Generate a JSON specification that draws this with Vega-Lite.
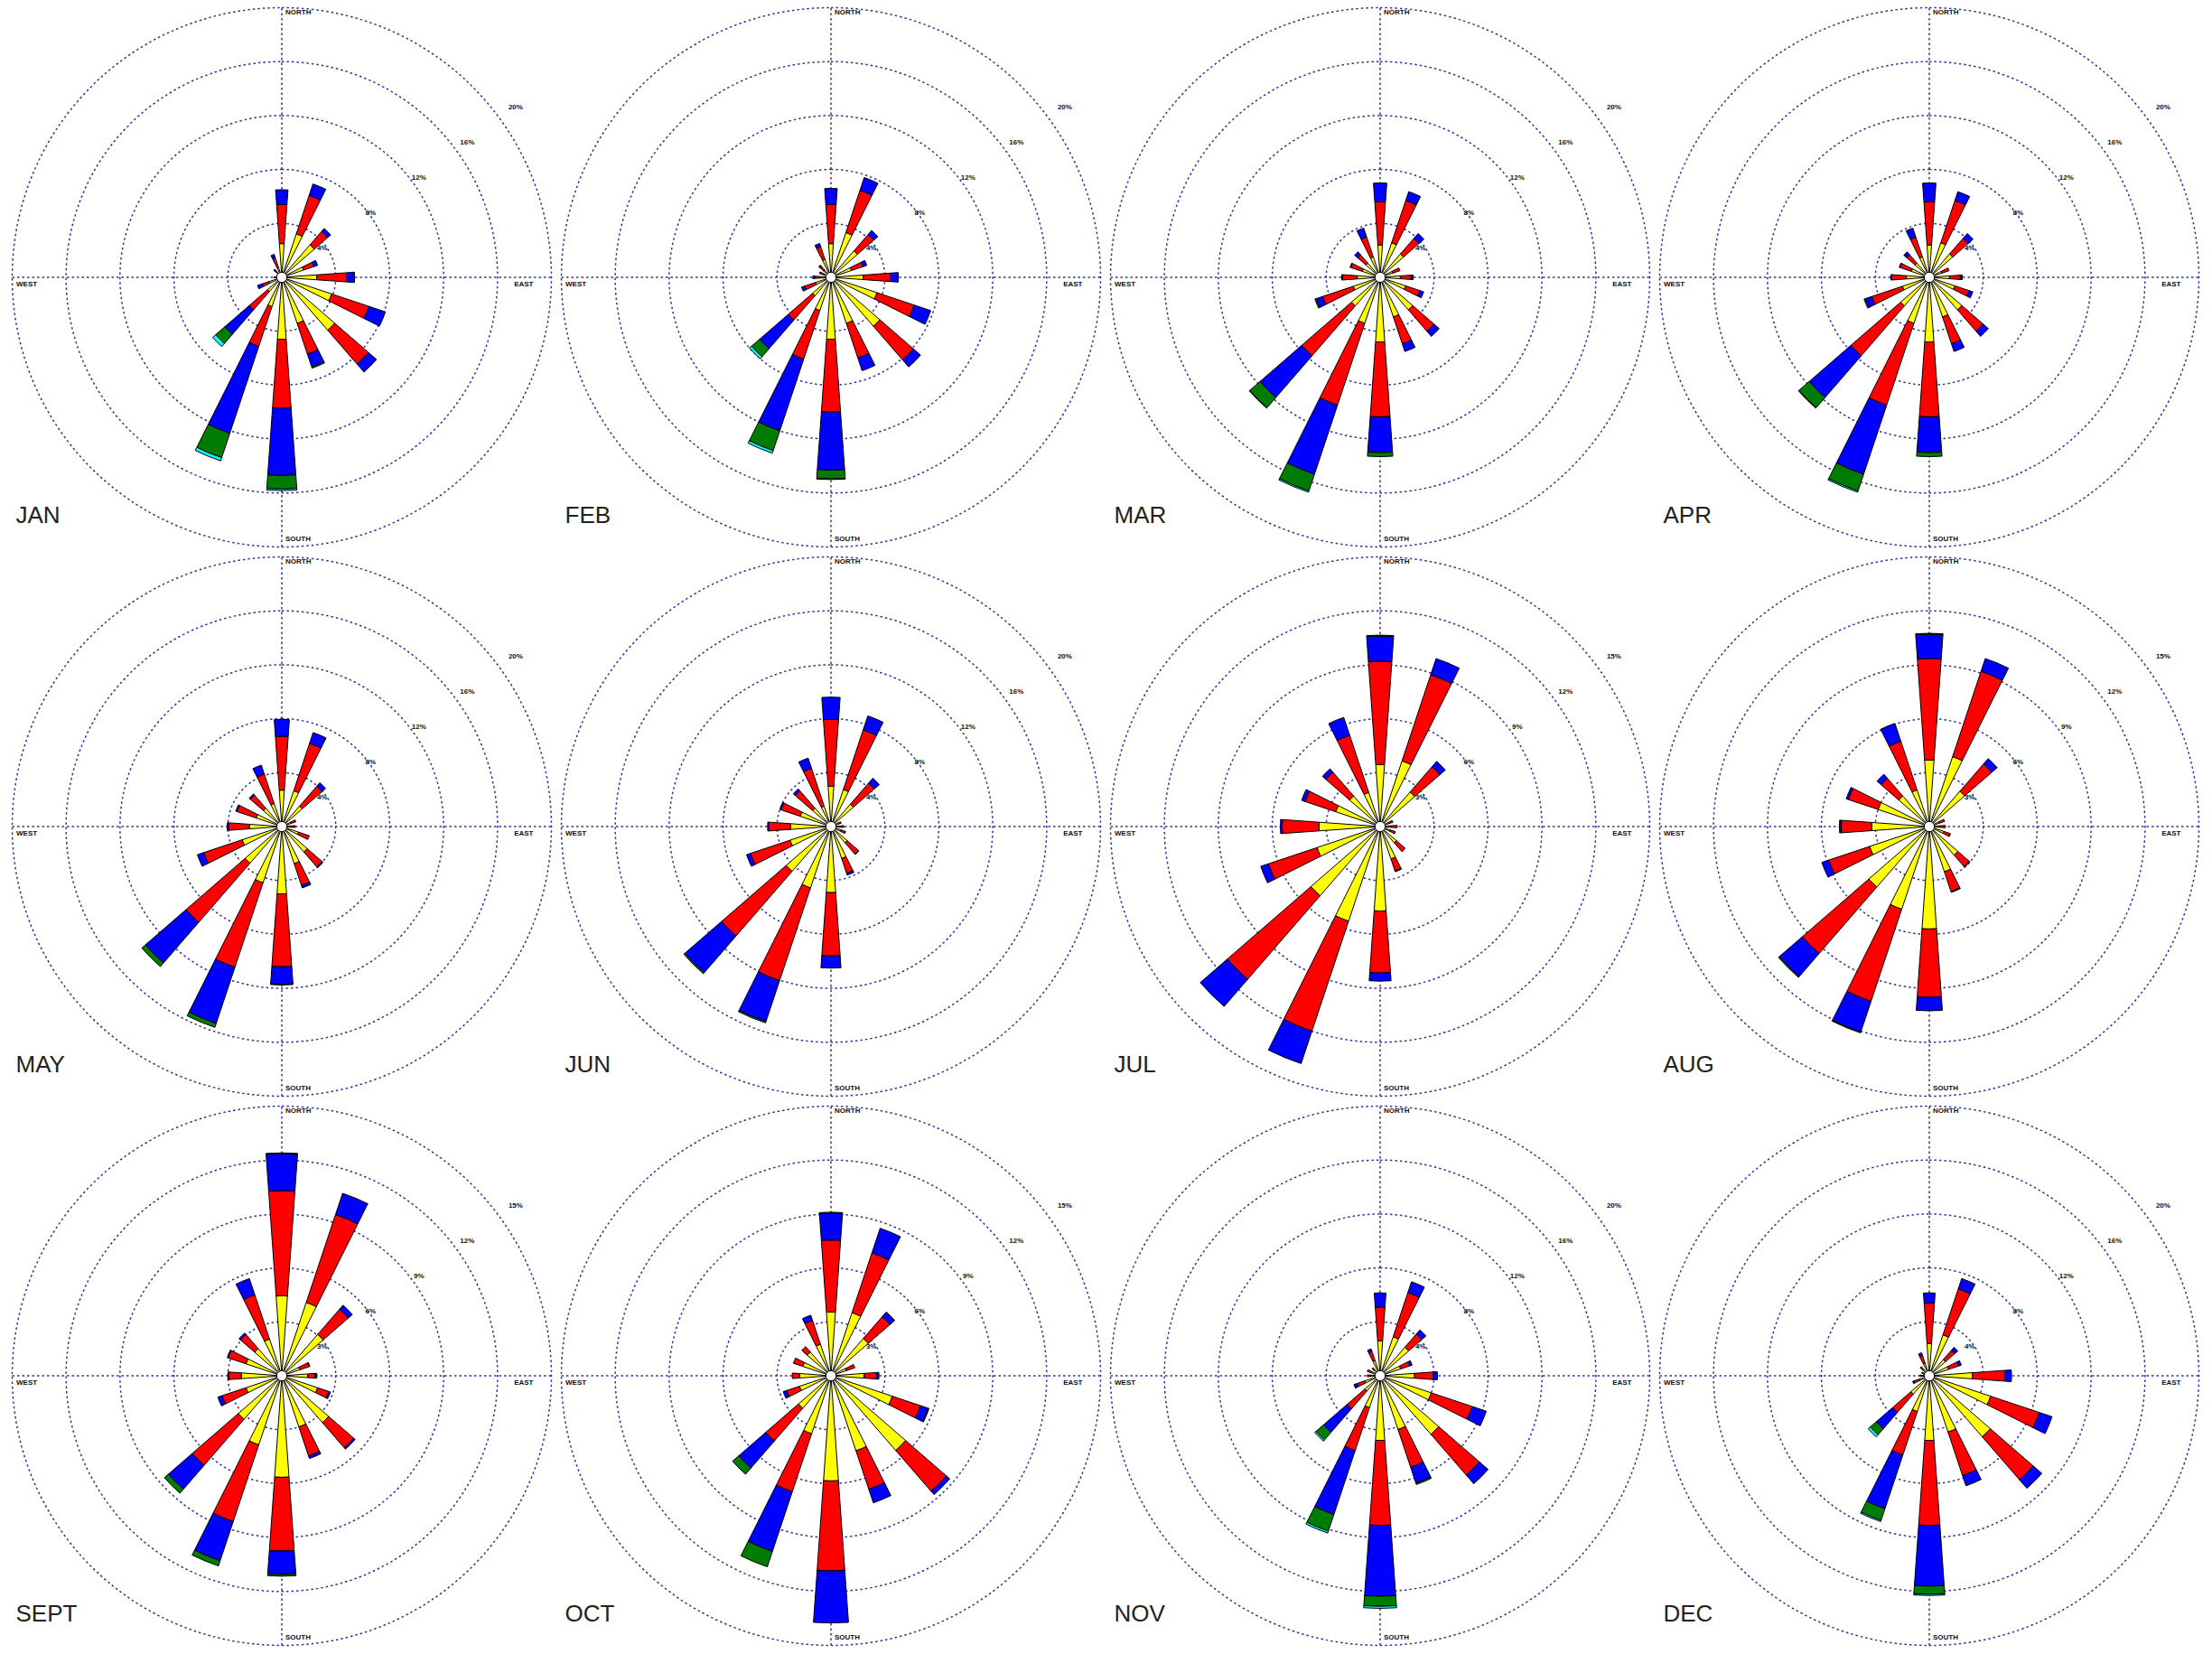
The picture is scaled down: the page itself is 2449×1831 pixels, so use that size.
{
  "$schema": "https://vega.github.io/schema/vega-lite/v6.json",
  "padding": {"left": 8, "top": 3, "right": 0, "bottom": 0},
  "background": "white",
  "config": {"view": {"stroke": null}, "font": "Liberation Sans"},
  "datasets": {
    "all": [
      {"m":"JAN","d":0,"s1":2.5,"s2":2.9,"s3":1.1},
      {"m":"JAN","d":22.5,"s1":3.4,"s2":3.0,"s3":0.9},
      {"m":"JAN","d":45,"s1":3.2,"s2":1.3,"s3":0.3},
      {"m":"JAN","d":67.5,"s1":1.7,"s2":0.8,"s3":0.3},
      {"m":"JAN","d":90,"s1":2.6,"s2":2.2,"s3":0.6},
      {"m":"JAN","d":112.5,"s1":3.9,"s2":2.9,"s3":1.3},
      {"m":"JAN","d":135,"s1":5.2,"s2":3.3,"s3":0.8},
      {"m":"JAN","d":157.5,"s1":3.6,"s2":2.4,"s3":1.0,"s4":0.1},
      {"m":"JAN","d":180,"s1":4.6,"s2":5.1,"s3":5.0,"s4":1.0,"s5":0.12},
      {"m":"JAN","d":202.5,"s1":2.3,"s2":3.1,"s3":6.8,"s4":1.9,"s5":0.25},
      {"m":"JAN","d":225,"s1":1.4,"s2":1.8,"s3":2.4,"s4":0.9,"s5":0.3},
      {"m":"JAN","d":247.5,"s1":1.0,"s2":0.5,"s3":0.4},
      {"m":"JAN","d":270,"s1":0.4,"s2":0.2},
      {"m":"JAN","d":292.5,"s1":0.3,"s2":0.1},
      {"m":"JAN","d":315,"s1":0.5,"s2":0.2,"s3":0.1},
      {"m":"JAN","d":337.5,"s1":0.8,"s2":0.7,"s3":0.3},
      {"m":"FEB","d":0,"s1":2.5,"s2":2.9,"s3":1.2},
      {"m":"FEB","d":22.5,"s1":3.5,"s2":3.3,"s3":1.0},
      {"m":"FEB","d":45,"s1":2.6,"s2":1.6,"s3":0.4},
      {"m":"FEB","d":67.5,"s1":1.6,"s2":0.9,"s3":0.3},
      {"m":"FEB","d":90,"s1":2.4,"s2":2.0,"s3":0.6},
      {"m":"FEB","d":112.5,"s1":3.6,"s2":2.9,"s3":1.3},
      {"m":"FEB","d":135,"s1":4.8,"s2":3.3,"s3":0.7},
      {"m":"FEB","d":157.5,"s1":3.6,"s2":2.7,"s3":1.0},
      {"m":"FEB","d":180,"s1":4.6,"s2":5.4,"s3":4.3,"s4":0.65,"s5":0.05},
      {"m":"FEB","d":202.5,"s1":2.6,"s2":3.8,"s3":5.6,"s4":1.55,"s5":0.2},
      {"m":"FEB","d":225,"s1":1.8,"s2":2.4,"s3":2.8,"s4":0.8,"s5":0.2},
      {"m":"FEB","d":247.5,"s1":1.2,"s2":0.85,"s3":0.25},
      {"m":"FEB","d":270,"s1":0.8,"s2":0.4,"s3":0.15},
      {"m":"FEB","d":292.5,"s1":0.6,"s2":0.3},
      {"m":"FEB","d":315,"s1":0.7,"s2":0.4,"s3":0.1},
      {"m":"FEB","d":337.5,"s1":1.4,"s2":1.0,"s3":0.25},
      {"m":"MAR","d":0,"s1":2.4,"s2":3.2,"s3":1.4},
      {"m":"MAR","d":22.5,"s1":2.7,"s2":3.3,"s3":0.7},
      {"m":"MAR","d":45,"s1":2.3,"s2":1.5,"s3":0.5},
      {"m":"MAR","d":67.5,"s1":1.0,"s2":0.55},
      {"m":"MAR","d":90,"s1":1.5,"s2":0.8,"s3":0.15},
      {"m":"MAR","d":112.5,"s1":2.0,"s2":1.1,"s3":0.3},
      {"m":"MAR","d":135,"s1":3.2,"s2":2.1,"s3":0.5},
      {"m":"MAR","d":157.5,"s1":3.1,"s2":2.1,"s3":0.6},
      {"m":"MAR","d":180,"s1":4.8,"s2":5.55,"s3":2.65,"s4":0.3},
      {"m":"MAR","d":202.5,"s1":3.6,"s2":6.4,"s3":5.4,"s4":1.3,"s5":0.1},
      {"m":"MAR","d":225,"s1":2.8,"s2":4.9,"s3":4.1,"s4":1.0,"s5":0.05},
      {"m":"MAR","d":247.5,"s1":2.1,"s2":2.4,"s3":0.5,"s4":0.1},
      {"m":"MAR","d":270,"s1":1.7,"s2":1.1,"s3":0.05},
      {"m":"MAR","d":292.5,"s1":1.4,"s2":0.9,"s3":0.05},
      {"m":"MAR","d":315,"s1":1.4,"s2":0.8,"s3":0.3},
      {"m":"MAR","d":337.5,"s1":1.6,"s2":1.55,"s3":0.7},
      {"m":"APR","d":0,"s1":2.4,"s2":3.2,"s3":1.4},
      {"m":"APR","d":22.5,"s1":2.7,"s2":3.3,"s3":0.7},
      {"m":"APR","d":45,"s1":2.3,"s2":1.5,"s3":0.5},
      {"m":"APR","d":67.5,"s1":1.0,"s2":0.55},
      {"m":"APR","d":90,"s1":1.5,"s2":0.8,"s3":0.15},
      {"m":"APR","d":112.5,"s1":2.0,"s2":1.1,"s3":0.3},
      {"m":"APR","d":135,"s1":3.2,"s2":2.1,"s3":0.5},
      {"m":"APR","d":157.5,"s1":3.1,"s2":2.1,"s3":0.6},
      {"m":"APR","d":180,"s1":4.8,"s2":5.55,"s3":2.65,"s4":0.3},
      {"m":"APR","d":202.5,"s1":3.6,"s2":6.4,"s3":5.4,"s4":1.3,"s5":0.1},
      {"m":"APR","d":225,"s1":2.8,"s2":4.9,"s3":4.1,"s4":1.0,"s5":0.05},
      {"m":"APR","d":247.5,"s1":2.1,"s2":2.4,"s3":0.5,"s4":0.1},
      {"m":"APR","d":270,"s1":1.7,"s2":1.1,"s3":0.05},
      {"m":"APR","d":292.5,"s1":1.4,"s2":0.9,"s3":0.05},
      {"m":"APR","d":315,"s1":1.4,"s2":0.8,"s3":0.3},
      {"m":"APR","d":337.5,"s1":1.6,"s2":1.55,"s3":0.7},
      {"m":"MAY","d":0,"s1":2.7,"s2":4.0,"s3":1.25},
      {"m":"MAY","d":22.5,"s1":2.8,"s2":3.7,"s3":0.85},
      {"m":"MAY","d":45,"s1":2.0,"s2":1.95,"s3":0.35},
      {"m":"MAY","d":67.5,"s1":0.7,"s2":0.4},
      {"m":"MAY","d":90,"s1":0.7,"s2":0.3},
      {"m":"MAY","d":112.5,"s1":1.3,"s2":0.85},
      {"m":"MAY","d":135,"s1":2.5,"s2":1.45,"s3":0.1},
      {"m":"MAY","d":157.5,"s1":2.9,"s2":1.7,"s3":0.2},
      {"m":"MAY","d":180,"s1":5.0,"s2":5.4,"s3":1.3,"s4":0.05},
      {"m":"MAY","d":202.5,"s1":4.4,"s2":6.6,"s3":4.4,"s4":0.3},
      {"m":"MAY","d":225,"s1":3.6,"s2":5.8,"s3":4.0,"s4":0.35},
      {"m":"MAY","d":247.5,"s1":3.1,"s2":3.0,"s3":0.5},
      {"m":"MAY","d":270,"s1":2.4,"s2":1.55,"s3":0.1},
      {"m":"MAY","d":292.5,"s1":2.0,"s2":1.5,"s3":0.1},
      {"m":"MAY","d":315,"s1":1.8,"s2":1.3,"s3":0.1},
      {"m":"MAY","d":337.5,"s1":1.8,"s2":2.3,"s3":0.7},
      {"m":"JUN","d":0,"s1":3.0,"s2":4.95,"s3":1.65},
      {"m":"JUN","d":22.5,"s1":2.9,"s2":4.65,"s3":1.1},
      {"m":"JUN","d":45,"s1":2.2,"s2":2.05,"s3":0.5},
      {"m":"JUN","d":67.5,"s1":0.6,"s2":0.2},
      {"m":"JUN","d":90,"s1":0.7,"s2":0.25},
      {"m":"JUN","d":112.5,"s1":0.8,"s2":0.35},
      {"m":"JUN","d":135,"s1":1.6,"s2":1.1,"s3":0.05},
      {"m":"JUN","d":157.5,"s1":2.5,"s2":1.15,"s3":0.15},
      {"m":"JUN","d":180,"s1":4.9,"s2":4.7,"s3":0.9},
      {"m":"JUN","d":202.5,"s1":4.8,"s2":7.25,"s3":3.2,"s4":0.1},
      {"m":"JUN","d":225,"s1":4.4,"s2":6.35,"s3":3.6,"s4":0.1},
      {"m":"JUN","d":247.5,"s1":3.2,"s2":3.1,"s3":0.3},
      {"m":"JUN","d":270,"s1":3.0,"s2":1.6,"s3":0.1},
      {"m":"JUN","d":292.5,"s1":2.4,"s2":1.5,"s3":0.1},
      {"m":"JUN","d":315,"s1":1.8,"s2":1.7,"s3":0.2},
      {"m":"JUN","d":337.5,"s1":1.6,"s2":2.95,"s3":0.8},
      {"m":"JUL","d":0,"s1":3.45,"s2":5.75,"s3":1.4,"s4":0.05},
      {"m":"JUL","d":22.5,"s1":3.85,"s2":5.05,"s3":0.95},
      {"m":"JUL","d":45,"s1":2.55,"s2":1.85,"s3":0.4},
      {"m":"JUL","d":67.5,"s1":0.5,"s2":0.25},
      {"m":"JUL","d":90,"s1":0.6,"s2":0.35},
      {"m":"JUL","d":112.5,"s1":0.6,"s2":0.3},
      {"m":"JUL","d":135,"s1":1.2,"s2":0.65},
      {"m":"JUL","d":157.5,"s1":1.9,"s2":0.7,"s3":0.05},
      {"m":"JUL","d":180,"s1":4.7,"s2":3.45,"s3":0.45},
      {"m":"JUL","d":202.5,"s1":5.55,"s2":6.45,"s3":1.9},
      {"m":"JUL","d":225,"s1":5.1,"s2":6.15,"s3":2.0},
      {"m":"JUL","d":247.5,"s1":3.7,"s2":2.85,"s3":0.45},
      {"m":"JUL","d":270,"s1":3.4,"s2":2.05,"s3":0.1},
      {"m":"JUL","d":292.5,"s1":2.6,"s2":1.8,"s3":0.2},
      {"m":"JUL","d":315,"s1":2.25,"s2":1.75,"s3":0.25},
      {"m":"JUL","d":337.5,"s1":2.0,"s2":3.35,"s3":1.05},
      {"m":"AUG","d":0,"s1":3.7,"s2":5.65,"s3":1.35,"s4":0.05},
      {"m":"AUG","d":22.5,"s1":4.1,"s2":5.0,"s3":0.75},
      {"m":"AUG","d":45,"s1":2.6,"s2":2.0,"s3":0.4},
      {"m":"AUG","d":67.5,"s1":0.6,"s2":0.3},
      {"m":"AUG","d":90,"s1":0.6,"s2":0.3},
      {"m":"AUG","d":112.5,"s1":0.85,"s2":0.4},
      {"m":"AUG","d":135,"s1":2.1,"s2":0.85,"s3":0.05},
      {"m":"AUG","d":157.5,"s1":2.65,"s2":1.15,"s3":0.06},
      {"m":"AUG","d":180,"s1":5.7,"s2":3.8,"s3":0.75},
      {"m":"AUG","d":202.5,"s1":4.85,"s2":5.4,"s3":1.8,"s4":0.05},
      {"m":"AUG","d":225,"s1":4.45,"s2":4.9,"s3":1.7,"s4":0.06},
      {"m":"AUG","d":247.5,"s1":3.5,"s2":2.4,"s3":0.4},
      {"m":"AUG","d":270,"s1":3.2,"s2":1.7,"s3":0.1},
      {"m":"AUG","d":292.5,"s1":3.0,"s2":1.75,"s3":0.12},
      {"m":"AUG","d":315,"s1":2.25,"s2":1.3,"s3":0.3},
      {"m":"AUG","d":337.5,"s1":2.15,"s2":2.85,"s3":1.05},
      {"m":"SEPT","d":0,"s1":4.45,"s2":5.85,"s3":2.05,"s4":0.05},
      {"m":"SEPT","d":22.5,"s1":4.3,"s2":5.15,"s3":1.25},
      {"m":"SEPT","d":45,"s1":3.05,"s2":1.85,"s3":0.3},
      {"m":"SEPT","d":67.5,"s1":1.05,"s2":0.55,"s3":0.05},
      {"m":"SEPT","d":90,"s1":1.45,"s2":0.4,"s3":0.1},
      {"m":"SEPT","d":112.5,"s1":2.1,"s2":0.65,"s3":0.1},
      {"m":"SEPT","d":135,"s1":3.45,"s2":1.85,"s3":0.1},
      {"m":"SEPT","d":157.5,"s1":3.0,"s2":1.7,"s3":0.15},
      {"m":"SEPT","d":180,"s1":5.65,"s2":4.1,"s3":1.3,"s4":0.1},
      {"m":"SEPT","d":202.5,"s1":4.05,"s2":4.5,"s3":2.3,"s4":0.3},
      {"m":"SEPT","d":225,"s1":3.2,"s2":3.4,"s3":1.75,"s4":0.3},
      {"m":"SEPT","d":247.5,"s1":2.1,"s2":1.4,"s3":0.25},
      {"m":"SEPT","d":270,"s1":2.25,"s2":0.7,"s3":0.05},
      {"m":"SEPT","d":292.5,"s1":2.1,"s2":1.05,"s3":0.05},
      {"m":"SEPT","d":315,"s1":2.0,"s2":1.05,"s3":0.1},
      {"m":"SEPT","d":337.5,"s1":2.15,"s2":2.6,"s3":0.95},
      {"m":"OCT","d":0,"s1":3.55,"s2":4.0,"s3":1.5,"s4":0.05},
      {"m":"OCT","d":22.5,"s1":3.7,"s2":3.5,"s3":1.45},
      {"m":"OCT","d":45,"s1":2.75,"s2":1.6,"s3":0.35},
      {"m":"OCT","d":67.5,"s1":0.9,"s2":0.5},
      {"m":"OCT","d":90,"s1":1.85,"s2":0.7,"s3":0.12},
      {"m":"OCT","d":112.5,"s1":3.6,"s2":1.65,"s3":0.45,"s4":0.05},
      {"m":"OCT","d":135,"s1":5.5,"s2":3.0,"s3":0.25},
      {"m":"OCT","d":157.5,"s1":4.4,"s2":2.25,"s3":0.8},
      {"m":"OCT","d":180,"s1":5.85,"s2":5.0,"s3":2.9},
      {"m":"OCT","d":202.5,"s1":3.4,"s2":3.4,"s3":3.5,"s4":0.9},
      {"m":"OCT","d":225,"s1":2.4,"s2":2.4,"s3":2.0,"s4":0.45},
      {"m":"OCT","d":247.5,"s1":1.85,"s2":0.75,"s3":0.2},
      {"m":"OCT","d":270,"s1":1.75,"s2":0.4},
      {"m":"OCT","d":292.5,"s1":1.65,"s2":0.55},
      {"m":"OCT","d":315,"s1":1.75,"s2":0.4},
      {"m":"OCT","d":337.5,"s1":1.85,"s2":1.4,"s3":0.3},
      {"m":"NOV","d":0,"s1":2.6,"s2":2.5,"s3":1.05},
      {"m":"NOV","d":22.5,"s1":3.05,"s2":3.45,"s3":0.85},
      {"m":"NOV","d":45,"s1":2.8,"s2":1.3,"s3":0.4},
      {"m":"NOV","d":67.5,"s1":1.6,"s2":0.7,"s3":0.2},
      {"m":"NOV","d":90,"s1":2.55,"s2":1.4,"s3":0.3},
      {"m":"NOV","d":112.5,"s1":4.0,"s2":3.2,"s3":1.1},
      {"m":"NOV","d":135,"s1":5.75,"s2":4.0,"s3":0.85},
      {"m":"NOV","d":157.5,"s1":4.2,"s2":2.95,"s3":1.25,"s4":0.1},
      {"m":"NOV","d":180,"s1":4.8,"s2":6.3,"s3":5.25,"s4":0.75,"s5":0.15},
      {"m":"NOV","d":202.5,"s1":2.5,"s2":3.35,"s3":5.0,"s4":1.3,"s5":0.15},
      {"m":"NOV","d":225,"s1":1.5,"s2":1.75,"s3":2.3,"s4":0.75,"s5":0.12},
      {"m":"NOV","d":247.5,"s1":1.2,"s2":0.6,"s3":0.25},
      {"m":"NOV","d":270,"s1":0.7,"s2":0.25},
      {"m":"NOV","d":292.5,"s1":0.7,"s2":0.3},
      {"m":"NOV","d":315,"s1":0.6,"s2":0.2},
      {"m":"NOV","d":337.5,"s1":1.2,"s2":0.7,"s3":0.2},
      {"m":"DEC","d":0,"s1":2.4,"s2":3.0,"s3":0.75},
      {"m":"DEC","d":22.5,"s1":3.2,"s2":3.6,"s3":0.8},
      {"m":"DEC","d":45,"s1":1.6,"s2":0.9,"s3":0.3},
      {"m":"DEC","d":67.5,"s1":1.5,"s2":0.8,"s3":0.2},
      {"m":"DEC","d":90,"s1":3.2,"s2":2.4,"s3":0.5},
      {"m":"DEC","d":112.5,"s1":4.8,"s2":3.8,"s3":1.0},
      {"m":"DEC","d":135,"s1":6.0,"s2":4.2,"s3":0.85},
      {"m":"DEC","d":157.5,"s1":4.4,"s2":3.4,"s3":0.8},
      {"m":"DEC","d":180,"s1":4.8,"s2":6.3,"s3":4.5,"s4":0.6,"s5":0.1},
      {"m":"DEC","d":202.5,"s1":2.8,"s2":3.4,"s3":4.2,"s4":0.9,"s5":0.1},
      {"m":"DEC","d":225,"s1":1.8,"s2":1.8,"s3":1.6,"s4":0.6,"s5":0.2},
      {"m":"DEC","d":247.5,"s1":0.8,"s2":0.4,"s3":0.1},
      {"m":"DEC","d":270,"s1":0.5,"s2":0.2},
      {"m":"DEC","d":292.5,"s1":0.4,"s2":0.2},
      {"m":"DEC","d":315,"s1":0.6,"s2":0.3},
      {"m":"DEC","d":337.5,"s1":1.0,"s2":0.6,"s3":0.2},
      {"m":"JAN","ring":4,"lab":"4%"},{"m":"JAN","ring":8,"lab":"8%"},{"m":"JAN","ring":12,"lab":"12%"},{"m":"JAN","ring":16,"lab":"16%"},{"m":"JAN","ring":20,"lab":"20%","o":1},
      {"m":"FEB","ring":4,"lab":"4%"},{"m":"FEB","ring":8,"lab":"8%"},{"m":"FEB","ring":12,"lab":"12%"},{"m":"FEB","ring":16,"lab":"16%"},{"m":"FEB","ring":20,"lab":"20%","o":1},
      {"m":"MAR","ring":4,"lab":"4%"},{"m":"MAR","ring":8,"lab":"8%"},{"m":"MAR","ring":12,"lab":"12%"},{"m":"MAR","ring":16,"lab":"16%"},{"m":"MAR","ring":20,"lab":"20%","o":1},
      {"m":"APR","ring":4,"lab":"4%"},{"m":"APR","ring":8,"lab":"8%"},{"m":"APR","ring":12,"lab":"12%"},{"m":"APR","ring":16,"lab":"16%"},{"m":"APR","ring":20,"lab":"20%","o":1},
      {"m":"MAY","ring":4,"lab":"4%"},{"m":"MAY","ring":8,"lab":"8%"},{"m":"MAY","ring":12,"lab":"12%"},{"m":"MAY","ring":16,"lab":"16%"},{"m":"MAY","ring":20,"lab":"20%","o":1},
      {"m":"JUN","ring":4,"lab":"4%"},{"m":"JUN","ring":8,"lab":"8%"},{"m":"JUN","ring":12,"lab":"12%"},{"m":"JUN","ring":16,"lab":"16%"},{"m":"JUN","ring":20,"lab":"20%","o":1},
      {"m":"JUL","ring":3,"lab":"3%"},{"m":"JUL","ring":6,"lab":"6%"},{"m":"JUL","ring":9,"lab":"9%"},{"m":"JUL","ring":12,"lab":"12%"},{"m":"JUL","ring":15,"lab":"15%","o":1},
      {"m":"AUG","ring":3,"lab":"3%"},{"m":"AUG","ring":6,"lab":"6%"},{"m":"AUG","ring":9,"lab":"9%"},{"m":"AUG","ring":12,"lab":"12%"},{"m":"AUG","ring":15,"lab":"15%","o":1},
      {"m":"SEPT","ring":3,"lab":"3%"},{"m":"SEPT","ring":6,"lab":"6%"},{"m":"SEPT","ring":9,"lab":"9%"},{"m":"SEPT","ring":12,"lab":"12%"},{"m":"SEPT","ring":15,"lab":"15%","o":1},
      {"m":"OCT","ring":3,"lab":"3%"},{"m":"OCT","ring":6,"lab":"6%"},{"m":"OCT","ring":9,"lab":"9%"},{"m":"OCT","ring":12,"lab":"12%"},{"m":"OCT","ring":15,"lab":"15%","o":1},
      {"m":"NOV","ring":4,"lab":"4%"},{"m":"NOV","ring":8,"lab":"8%"},{"m":"NOV","ring":12,"lab":"12%"},{"m":"NOV","ring":16,"lab":"16%"},{"m":"NOV","ring":20,"lab":"20%","o":1},
      {"m":"DEC","ring":4,"lab":"4%"},{"m":"DEC","ring":8,"lab":"8%"},{"m":"DEC","ring":12,"lab":"12%"},{"m":"DEC","ring":16,"lab":"16%"},{"m":"DEC","ring":20,"lab":"20%","o":1}
    ]
  },
  "columns": 4,
  "spacing": 0,
  "bounds": "flush",
  "concat": [
    {"width":608,"height":608,"data":{"name":"all"},"transform":[{"filter":"datum.m === 'JAN'"}],"resolve":{"scale":{"radius":"independent"}},"layer":[
      {"transform":[{"filter":"isValid(datum.ring)"}],"mark":{"type":"arc","filled":false,"stroke":"#33339a","strokeWidth":1.5,"strokeDash":[2.5,3]},"encoding":{"theta":{"datum":0,"scale":{"domain":[0,360],"range":[0,6.283185307179586]}},"theta2":{"datum":360},"radius":{"field":"ring","type":"quantitative","stack":null,"scale":{"type":"linear","domain":[0,20],"range":[0,298.5]}}}},
      {"transform":[{"filter":"datum.o === 1"}],"mark":{"type":"rule","stroke":"#33339a","strokeWidth":1.5,"strokeDash":[2.5,3]},"encoding":{"x":{"datum":-1,"scale":{"domain":[-1,1],"range":[5.5,602.5]},"axis":null},"x2":{"datum":1},"y":{"datum":0,"scale":{"domain":[-1,1],"range":[602.5,5.5]},"axis":null}}},
      {"transform":[{"filter":"datum.o === 1"}],"mark":{"type":"rule","stroke":"#33339a","strokeWidth":1.5,"strokeDash":[2.5,3]},"encoding":{"x":{"datum":0},"y":{"datum":-1},"y2":{"datum":1}}},
      {"transform":[{"filter":"isValid(datum.d)"},{"fold":["s1","s2","s3","s4","s5"],"as":["cls","f"]},{"filter":"datum.f > 0"},{"stack":"f","groupby":["d"],"sort":[{"field":"cls","order":"ascending"}],"as":["r0","r1"]}],"mark":{"type":"arc","thetaOffset":-0.071,"theta2Offset":0.071,"stroke":"#000000","strokeWidth":1},"encoding":{"theta":{"field":"d","type":"quantitative","stack":null},"theta2":{"field":"d"},"radius":{"field":"r1","type":"quantitative","stack":null,"scale":{"type":"linear","domain":[0,20],"range":[0,298.5]}},"radius2":{"field":"r0"},"color":{"field":"cls","type":"nominal","scale":{"domain":["s1","s2","s3","s4","s5"],"range":["#ffff00","#ff0000","#0000ff","#007d00","#00ffff"]},"legend":null}}},
      {"transform":[{"filter":"datum.o === 1"}],"mark":{"type":"point","shape":"circle","size":130,"filled":true,"color":"#ffffff","stroke":"#000000","strokeWidth":1,"opacity":1},"encoding":{"x":{"datum":0},"y":{"datum":0}}},
      {"transform":[{"filter":"isValid(datum.ring)"}],"mark":{"type":"text","fontSize":8,"fontWeight":"bold","color":"#111111","align":"center","baseline":"middle"},"encoding":{"theta":{"datum":54},"radius":{"field":"ring","type":"quantitative","stack":null,"scale":{"type":"linear","domain":[0,20],"range":[-11,320]}},"text":{"field":"lab"}}},
      {"transform":[{"filter":"datum.o === 1"}],"mark":{"type":"text","text":"NORTH","fontSize":8,"fontWeight":"bold","color":"#111111","align":"left","baseline":"middle","dx":4,"dy":5},"encoding":{"x":{"datum":0},"y":{"datum":1}}},
      {"transform":[{"filter":"datum.o === 1"}],"mark":{"type":"text","text":"SOUTH","fontSize":8,"fontWeight":"bold","color":"#111111","align":"left","baseline":"middle","dx":4,"dy":-9},"encoding":{"x":{"datum":0},"y":{"datum":-1}}},
      {"transform":[{"filter":"datum.o === 1"}],"mark":{"type":"text","text":"WEST","fontSize":8,"fontWeight":"bold","color":"#111111","align":"left","baseline":"middle","dx":4.5,"dy":8},"encoding":{"x":{"datum":-1},"y":{"datum":0}}},
      {"transform":[{"filter":"datum.o === 1"}],"mark":{"type":"text","text":"EAST","fontSize":8,"fontWeight":"bold","color":"#111111","align":"right","baseline":"middle","dx":-20,"dy":8},"encoding":{"x":{"datum":1},"y":{"datum":0}}},
      {"transform":[{"filter":"datum.o === 1"}],"mark":{"type":"text","fontSize":26,"color":"#222222","align":"left","baseline":"alphabetic","dx":4,"dy":-27},"encoding":{"x":{"datum":-1},"y":{"datum":-1},"text":{"field":"m"}}}
    ]},
    {"width":608,"height":608,"data":{"name":"all"},"transform":[{"filter":"datum.m === 'FEB'"}],"resolve":{"scale":{"radius":"independent"}},"layer":[
      {"transform":[{"filter":"isValid(datum.ring)"}],"mark":{"type":"arc","filled":false,"stroke":"#33339a","strokeWidth":1.5,"strokeDash":[2.5,3]},"encoding":{"theta":{"datum":0,"scale":{"domain":[0,360],"range":[0,6.283185307179586]}},"theta2":{"datum":360},"radius":{"field":"ring","type":"quantitative","stack":null,"scale":{"type":"linear","domain":[0,20],"range":[0,298.5]}}}},
      {"transform":[{"filter":"datum.o === 1"}],"mark":{"type":"rule","stroke":"#33339a","strokeWidth":1.5,"strokeDash":[2.5,3]},"encoding":{"x":{"datum":-1,"scale":{"domain":[-1,1],"range":[5.5,602.5]},"axis":null},"x2":{"datum":1},"y":{"datum":0,"scale":{"domain":[-1,1],"range":[602.5,5.5]},"axis":null}}},
      {"transform":[{"filter":"datum.o === 1"}],"mark":{"type":"rule","stroke":"#33339a","strokeWidth":1.5,"strokeDash":[2.5,3]},"encoding":{"x":{"datum":0},"y":{"datum":-1},"y2":{"datum":1}}},
      {"transform":[{"filter":"isValid(datum.d)"},{"fold":["s1","s2","s3","s4","s5"],"as":["cls","f"]},{"filter":"datum.f > 0"},{"stack":"f","groupby":["d"],"sort":[{"field":"cls","order":"ascending"}],"as":["r0","r1"]}],"mark":{"type":"arc","thetaOffset":-0.071,"theta2Offset":0.071,"stroke":"#000000","strokeWidth":1},"encoding":{"theta":{"field":"d","type":"quantitative","stack":null},"theta2":{"field":"d"},"radius":{"field":"r1","type":"quantitative","stack":null,"scale":{"type":"linear","domain":[0,20],"range":[0,298.5]}},"radius2":{"field":"r0"},"color":{"field":"cls","type":"nominal","scale":{"domain":["s1","s2","s3","s4","s5"],"range":["#ffff00","#ff0000","#0000ff","#007d00","#00ffff"]},"legend":null}}},
      {"transform":[{"filter":"datum.o === 1"}],"mark":{"type":"point","shape":"circle","size":130,"filled":true,"color":"#ffffff","stroke":"#000000","strokeWidth":1,"opacity":1},"encoding":{"x":{"datum":0},"y":{"datum":0}}},
      {"transform":[{"filter":"isValid(datum.ring)"}],"mark":{"type":"text","fontSize":8,"fontWeight":"bold","color":"#111111","align":"center","baseline":"middle"},"encoding":{"theta":{"datum":54},"radius":{"field":"ring","type":"quantitative","stack":null,"scale":{"type":"linear","domain":[0,20],"range":[-11,320]}},"text":{"field":"lab"}}},
      {"transform":[{"filter":"datum.o === 1"}],"mark":{"type":"text","text":"NORTH","fontSize":8,"fontWeight":"bold","color":"#111111","align":"left","baseline":"middle","dx":4,"dy":5},"encoding":{"x":{"datum":0},"y":{"datum":1}}},
      {"transform":[{"filter":"datum.o === 1"}],"mark":{"type":"text","text":"SOUTH","fontSize":8,"fontWeight":"bold","color":"#111111","align":"left","baseline":"middle","dx":4,"dy":-9},"encoding":{"x":{"datum":0},"y":{"datum":-1}}},
      {"transform":[{"filter":"datum.o === 1"}],"mark":{"type":"text","text":"WEST","fontSize":8,"fontWeight":"bold","color":"#111111","align":"left","baseline":"middle","dx":4.5,"dy":8},"encoding":{"x":{"datum":-1},"y":{"datum":0}}},
      {"transform":[{"filter":"datum.o === 1"}],"mark":{"type":"text","text":"EAST","fontSize":8,"fontWeight":"bold","color":"#111111","align":"right","baseline":"middle","dx":-20,"dy":8},"encoding":{"x":{"datum":1},"y":{"datum":0}}},
      {"transform":[{"filter":"datum.o === 1"}],"mark":{"type":"text","fontSize":26,"color":"#222222","align":"left","baseline":"alphabetic","dx":4,"dy":-27},"encoding":{"x":{"datum":-1},"y":{"datum":-1},"text":{"field":"m"}}}
    ]},
    {"width":608,"height":608,"data":{"name":"all"},"transform":[{"filter":"datum.m === 'MAR'"}],"resolve":{"scale":{"radius":"independent"}},"layer":[
      {"transform":[{"filter":"isValid(datum.ring)"}],"mark":{"type":"arc","filled":false,"stroke":"#33339a","strokeWidth":1.5,"strokeDash":[2.5,3]},"encoding":{"theta":{"datum":0,"scale":{"domain":[0,360],"range":[0,6.283185307179586]}},"theta2":{"datum":360},"radius":{"field":"ring","type":"quantitative","stack":null,"scale":{"type":"linear","domain":[0,20],"range":[0,298.5]}}}},
      {"transform":[{"filter":"datum.o === 1"}],"mark":{"type":"rule","stroke":"#33339a","strokeWidth":1.5,"strokeDash":[2.5,3]},"encoding":{"x":{"datum":-1,"scale":{"domain":[-1,1],"range":[5.5,602.5]},"axis":null},"x2":{"datum":1},"y":{"datum":0,"scale":{"domain":[-1,1],"range":[602.5,5.5]},"axis":null}}},
      {"transform":[{"filter":"datum.o === 1"}],"mark":{"type":"rule","stroke":"#33339a","strokeWidth":1.5,"strokeDash":[2.5,3]},"encoding":{"x":{"datum":0},"y":{"datum":-1},"y2":{"datum":1}}},
      {"transform":[{"filter":"isValid(datum.d)"},{"fold":["s1","s2","s3","s4","s5"],"as":["cls","f"]},{"filter":"datum.f > 0"},{"stack":"f","groupby":["d"],"sort":[{"field":"cls","order":"ascending"}],"as":["r0","r1"]}],"mark":{"type":"arc","thetaOffset":-0.071,"theta2Offset":0.071,"stroke":"#000000","strokeWidth":1},"encoding":{"theta":{"field":"d","type":"quantitative","stack":null},"theta2":{"field":"d"},"radius":{"field":"r1","type":"quantitative","stack":null,"scale":{"type":"linear","domain":[0,20],"range":[0,298.5]}},"radius2":{"field":"r0"},"color":{"field":"cls","type":"nominal","scale":{"domain":["s1","s2","s3","s4","s5"],"range":["#ffff00","#ff0000","#0000ff","#007d00","#00ffff"]},"legend":null}}},
      {"transform":[{"filter":"datum.o === 1"}],"mark":{"type":"point","shape":"circle","size":130,"filled":true,"color":"#ffffff","stroke":"#000000","strokeWidth":1,"opacity":1},"encoding":{"x":{"datum":0},"y":{"datum":0}}},
      {"transform":[{"filter":"isValid(datum.ring)"}],"mark":{"type":"text","fontSize":8,"fontWeight":"bold","color":"#111111","align":"center","baseline":"middle"},"encoding":{"theta":{"datum":54},"radius":{"field":"ring","type":"quantitative","stack":null,"scale":{"type":"linear","domain":[0,20],"range":[-11,320]}},"text":{"field":"lab"}}},
      {"transform":[{"filter":"datum.o === 1"}],"mark":{"type":"text","text":"NORTH","fontSize":8,"fontWeight":"bold","color":"#111111","align":"left","baseline":"middle","dx":4,"dy":5},"encoding":{"x":{"datum":0},"y":{"datum":1}}},
      {"transform":[{"filter":"datum.o === 1"}],"mark":{"type":"text","text":"SOUTH","fontSize":8,"fontWeight":"bold","color":"#111111","align":"left","baseline":"middle","dx":4,"dy":-9},"encoding":{"x":{"datum":0},"y":{"datum":-1}}},
      {"transform":[{"filter":"datum.o === 1"}],"mark":{"type":"text","text":"WEST","fontSize":8,"fontWeight":"bold","color":"#111111","align":"left","baseline":"middle","dx":4.5,"dy":8},"encoding":{"x":{"datum":-1},"y":{"datum":0}}},
      {"transform":[{"filter":"datum.o === 1"}],"mark":{"type":"text","text":"EAST","fontSize":8,"fontWeight":"bold","color":"#111111","align":"right","baseline":"middle","dx":-20,"dy":8},"encoding":{"x":{"datum":1},"y":{"datum":0}}},
      {"transform":[{"filter":"datum.o === 1"}],"mark":{"type":"text","fontSize":26,"color":"#222222","align":"left","baseline":"alphabetic","dx":4,"dy":-27},"encoding":{"x":{"datum":-1},"y":{"datum":-1},"text":{"field":"m"}}}
    ]},
    {"width":608,"height":608,"data":{"name":"all"},"transform":[{"filter":"datum.m === 'APR'"}],"resolve":{"scale":{"radius":"independent"}},"layer":[
      {"transform":[{"filter":"isValid(datum.ring)"}],"mark":{"type":"arc","filled":false,"stroke":"#33339a","strokeWidth":1.5,"strokeDash":[2.5,3]},"encoding":{"theta":{"datum":0,"scale":{"domain":[0,360],"range":[0,6.283185307179586]}},"theta2":{"datum":360},"radius":{"field":"ring","type":"quantitative","stack":null,"scale":{"type":"linear","domain":[0,20],"range":[0,298.5]}}}},
      {"transform":[{"filter":"datum.o === 1"}],"mark":{"type":"rule","stroke":"#33339a","strokeWidth":1.5,"strokeDash":[2.5,3]},"encoding":{"x":{"datum":-1,"scale":{"domain":[-1,1],"range":[5.5,602.5]},"axis":null},"x2":{"datum":1},"y":{"datum":0,"scale":{"domain":[-1,1],"range":[602.5,5.5]},"axis":null}}},
      {"transform":[{"filter":"datum.o === 1"}],"mark":{"type":"rule","stroke":"#33339a","strokeWidth":1.5,"strokeDash":[2.5,3]},"encoding":{"x":{"datum":0},"y":{"datum":-1},"y2":{"datum":1}}},
      {"transform":[{"filter":"isValid(datum.d)"},{"fold":["s1","s2","s3","s4","s5"],"as":["cls","f"]},{"filter":"datum.f > 0"},{"stack":"f","groupby":["d"],"sort":[{"field":"cls","order":"ascending"}],"as":["r0","r1"]}],"mark":{"type":"arc","thetaOffset":-0.071,"theta2Offset":0.071,"stroke":"#000000","strokeWidth":1},"encoding":{"theta":{"field":"d","type":"quantitative","stack":null},"theta2":{"field":"d"},"radius":{"field":"r1","type":"quantitative","stack":null,"scale":{"type":"linear","domain":[0,20],"range":[0,298.5]}},"radius2":{"field":"r0"},"color":{"field":"cls","type":"nominal","scale":{"domain":["s1","s2","s3","s4","s5"],"range":["#ffff00","#ff0000","#0000ff","#007d00","#00ffff"]},"legend":null}}},
      {"transform":[{"filter":"datum.o === 1"}],"mark":{"type":"point","shape":"circle","size":130,"filled":true,"color":"#ffffff","stroke":"#000000","strokeWidth":1,"opacity":1},"encoding":{"x":{"datum":0},"y":{"datum":0}}},
      {"transform":[{"filter":"isValid(datum.ring)"}],"mark":{"type":"text","fontSize":8,"fontWeight":"bold","color":"#111111","align":"center","baseline":"middle"},"encoding":{"theta":{"datum":54},"radius":{"field":"ring","type":"quantitative","stack":null,"scale":{"type":"linear","domain":[0,20],"range":[-11,320]}},"text":{"field":"lab"}}},
      {"transform":[{"filter":"datum.o === 1"}],"mark":{"type":"text","text":"NORTH","fontSize":8,"fontWeight":"bold","color":"#111111","align":"left","baseline":"middle","dx":4,"dy":5},"encoding":{"x":{"datum":0},"y":{"datum":1}}},
      {"transform":[{"filter":"datum.o === 1"}],"mark":{"type":"text","text":"SOUTH","fontSize":8,"fontWeight":"bold","color":"#111111","align":"left","baseline":"middle","dx":4,"dy":-9},"encoding":{"x":{"datum":0},"y":{"datum":-1}}},
      {"transform":[{"filter":"datum.o === 1"}],"mark":{"type":"text","text":"WEST","fontSize":8,"fontWeight":"bold","color":"#111111","align":"left","baseline":"middle","dx":4.5,"dy":8},"encoding":{"x":{"datum":-1},"y":{"datum":0}}},
      {"transform":[{"filter":"datum.o === 1"}],"mark":{"type":"text","text":"EAST","fontSize":8,"fontWeight":"bold","color":"#111111","align":"right","baseline":"middle","dx":-20,"dy":8},"encoding":{"x":{"datum":1},"y":{"datum":0}}},
      {"transform":[{"filter":"datum.o === 1"}],"mark":{"type":"text","fontSize":26,"color":"#222222","align":"left","baseline":"alphabetic","dx":4,"dy":-27},"encoding":{"x":{"datum":-1},"y":{"datum":-1},"text":{"field":"m"}}}
    ]},
    {"width":608,"height":608,"data":{"name":"all"},"transform":[{"filter":"datum.m === 'MAY'"}],"resolve":{"scale":{"radius":"independent"}},"layer":[
      {"transform":[{"filter":"isValid(datum.ring)"}],"mark":{"type":"arc","filled":false,"stroke":"#33339a","strokeWidth":1.5,"strokeDash":[2.5,3]},"encoding":{"theta":{"datum":0,"scale":{"domain":[0,360],"range":[0,6.283185307179586]}},"theta2":{"datum":360},"radius":{"field":"ring","type":"quantitative","stack":null,"scale":{"type":"linear","domain":[0,20],"range":[0,298.5]}}}},
      {"transform":[{"filter":"datum.o === 1"}],"mark":{"type":"rule","stroke":"#33339a","strokeWidth":1.5,"strokeDash":[2.5,3]},"encoding":{"x":{"datum":-1,"scale":{"domain":[-1,1],"range":[5.5,602.5]},"axis":null},"x2":{"datum":1},"y":{"datum":0,"scale":{"domain":[-1,1],"range":[602.5,5.5]},"axis":null}}},
      {"transform":[{"filter":"datum.o === 1"}],"mark":{"type":"rule","stroke":"#33339a","strokeWidth":1.5,"strokeDash":[2.5,3]},"encoding":{"x":{"datum":0},"y":{"datum":-1},"y2":{"datum":1}}},
      {"transform":[{"filter":"isValid(datum.d)"},{"fold":["s1","s2","s3","s4","s5"],"as":["cls","f"]},{"filter":"datum.f > 0"},{"stack":"f","groupby":["d"],"sort":[{"field":"cls","order":"ascending"}],"as":["r0","r1"]}],"mark":{"type":"arc","thetaOffset":-0.071,"theta2Offset":0.071,"stroke":"#000000","strokeWidth":1},"encoding":{"theta":{"field":"d","type":"quantitative","stack":null},"theta2":{"field":"d"},"radius":{"field":"r1","type":"quantitative","stack":null,"scale":{"type":"linear","domain":[0,20],"range":[0,298.5]}},"radius2":{"field":"r0"},"color":{"field":"cls","type":"nominal","scale":{"domain":["s1","s2","s3","s4","s5"],"range":["#ffff00","#ff0000","#0000ff","#007d00","#00ffff"]},"legend":null}}},
      {"transform":[{"filter":"datum.o === 1"}],"mark":{"type":"point","shape":"circle","size":130,"filled":true,"color":"#ffffff","stroke":"#000000","strokeWidth":1,"opacity":1},"encoding":{"x":{"datum":0},"y":{"datum":0}}},
      {"transform":[{"filter":"isValid(datum.ring)"}],"mark":{"type":"text","fontSize":8,"fontWeight":"bold","color":"#111111","align":"center","baseline":"middle"},"encoding":{"theta":{"datum":54},"radius":{"field":"ring","type":"quantitative","stack":null,"scale":{"type":"linear","domain":[0,20],"range":[-11,320]}},"text":{"field":"lab"}}},
      {"transform":[{"filter":"datum.o === 1"}],"mark":{"type":"text","text":"NORTH","fontSize":8,"fontWeight":"bold","color":"#111111","align":"left","baseline":"middle","dx":4,"dy":5},"encoding":{"x":{"datum":0},"y":{"datum":1}}},
      {"transform":[{"filter":"datum.o === 1"}],"mark":{"type":"text","text":"SOUTH","fontSize":8,"fontWeight":"bold","color":"#111111","align":"left","baseline":"middle","dx":4,"dy":-9},"encoding":{"x":{"datum":0},"y":{"datum":-1}}},
      {"transform":[{"filter":"datum.o === 1"}],"mark":{"type":"text","text":"WEST","fontSize":8,"fontWeight":"bold","color":"#111111","align":"left","baseline":"middle","dx":4.5,"dy":8},"encoding":{"x":{"datum":-1},"y":{"datum":0}}},
      {"transform":[{"filter":"datum.o === 1"}],"mark":{"type":"text","text":"EAST","fontSize":8,"fontWeight":"bold","color":"#111111","align":"right","baseline":"middle","dx":-20,"dy":8},"encoding":{"x":{"datum":1},"y":{"datum":0}}},
      {"transform":[{"filter":"datum.o === 1"}],"mark":{"type":"text","fontSize":26,"color":"#222222","align":"left","baseline":"alphabetic","dx":4,"dy":-27},"encoding":{"x":{"datum":-1},"y":{"datum":-1},"text":{"field":"m"}}}
    ]},
    {"width":608,"height":608,"data":{"name":"all"},"transform":[{"filter":"datum.m === 'JUN'"}],"resolve":{"scale":{"radius":"independent"}},"layer":[
      {"transform":[{"filter":"isValid(datum.ring)"}],"mark":{"type":"arc","filled":false,"stroke":"#33339a","strokeWidth":1.5,"strokeDash":[2.5,3]},"encoding":{"theta":{"datum":0,"scale":{"domain":[0,360],"range":[0,6.283185307179586]}},"theta2":{"datum":360},"radius":{"field":"ring","type":"quantitative","stack":null,"scale":{"type":"linear","domain":[0,20],"range":[0,298.5]}}}},
      {"transform":[{"filter":"datum.o === 1"}],"mark":{"type":"rule","stroke":"#33339a","strokeWidth":1.5,"strokeDash":[2.5,3]},"encoding":{"x":{"datum":-1,"scale":{"domain":[-1,1],"range":[5.5,602.5]},"axis":null},"x2":{"datum":1},"y":{"datum":0,"scale":{"domain":[-1,1],"range":[602.5,5.5]},"axis":null}}},
      {"transform":[{"filter":"datum.o === 1"}],"mark":{"type":"rule","stroke":"#33339a","strokeWidth":1.5,"strokeDash":[2.5,3]},"encoding":{"x":{"datum":0},"y":{"datum":-1},"y2":{"datum":1}}},
      {"transform":[{"filter":"isValid(datum.d)"},{"fold":["s1","s2","s3","s4","s5"],"as":["cls","f"]},{"filter":"datum.f > 0"},{"stack":"f","groupby":["d"],"sort":[{"field":"cls","order":"ascending"}],"as":["r0","r1"]}],"mark":{"type":"arc","thetaOffset":-0.071,"theta2Offset":0.071,"stroke":"#000000","strokeWidth":1},"encoding":{"theta":{"field":"d","type":"quantitative","stack":null},"theta2":{"field":"d"},"radius":{"field":"r1","type":"quantitative","stack":null,"scale":{"type":"linear","domain":[0,20],"range":[0,298.5]}},"radius2":{"field":"r0"},"color":{"field":"cls","type":"nominal","scale":{"domain":["s1","s2","s3","s4","s5"],"range":["#ffff00","#ff0000","#0000ff","#007d00","#00ffff"]},"legend":null}}},
      {"transform":[{"filter":"datum.o === 1"}],"mark":{"type":"point","shape":"circle","size":130,"filled":true,"color":"#ffffff","stroke":"#000000","strokeWidth":1,"opacity":1},"encoding":{"x":{"datum":0},"y":{"datum":0}}},
      {"transform":[{"filter":"isValid(datum.ring)"}],"mark":{"type":"text","fontSize":8,"fontWeight":"bold","color":"#111111","align":"center","baseline":"middle"},"encoding":{"theta":{"datum":54},"radius":{"field":"ring","type":"quantitative","stack":null,"scale":{"type":"linear","domain":[0,20],"range":[-11,320]}},"text":{"field":"lab"}}},
      {"transform":[{"filter":"datum.o === 1"}],"mark":{"type":"text","text":"NORTH","fontSize":8,"fontWeight":"bold","color":"#111111","align":"left","baseline":"middle","dx":4,"dy":5},"encoding":{"x":{"datum":0},"y":{"datum":1}}},
      {"transform":[{"filter":"datum.o === 1"}],"mark":{"type":"text","text":"SOUTH","fontSize":8,"fontWeight":"bold","color":"#111111","align":"left","baseline":"middle","dx":4,"dy":-9},"encoding":{"x":{"datum":0},"y":{"datum":-1}}},
      {"transform":[{"filter":"datum.o === 1"}],"mark":{"type":"text","text":"WEST","fontSize":8,"fontWeight":"bold","color":"#111111","align":"left","baseline":"middle","dx":4.5,"dy":8},"encoding":{"x":{"datum":-1},"y":{"datum":0}}},
      {"transform":[{"filter":"datum.o === 1"}],"mark":{"type":"text","text":"EAST","fontSize":8,"fontWeight":"bold","color":"#111111","align":"right","baseline":"middle","dx":-20,"dy":8},"encoding":{"x":{"datum":1},"y":{"datum":0}}},
      {"transform":[{"filter":"datum.o === 1"}],"mark":{"type":"text","fontSize":26,"color":"#222222","align":"left","baseline":"alphabetic","dx":4,"dy":-27},"encoding":{"x":{"datum":-1},"y":{"datum":-1},"text":{"field":"m"}}}
    ]},
    {"width":608,"height":608,"data":{"name":"all"},"transform":[{"filter":"datum.m === 'JUL'"}],"resolve":{"scale":{"radius":"independent"}},"layer":[
      {"transform":[{"filter":"isValid(datum.ring)"}],"mark":{"type":"arc","filled":false,"stroke":"#33339a","strokeWidth":1.5,"strokeDash":[2.5,3]},"encoding":{"theta":{"datum":0,"scale":{"domain":[0,360],"range":[0,6.283185307179586]}},"theta2":{"datum":360},"radius":{"field":"ring","type":"quantitative","stack":null,"scale":{"type":"linear","domain":[0,15],"range":[0,298.5]}}}},
      {"transform":[{"filter":"datum.o === 1"}],"mark":{"type":"rule","stroke":"#33339a","strokeWidth":1.5,"strokeDash":[2.5,3]},"encoding":{"x":{"datum":-1,"scale":{"domain":[-1,1],"range":[5.5,602.5]},"axis":null},"x2":{"datum":1},"y":{"datum":0,"scale":{"domain":[-1,1],"range":[602.5,5.5]},"axis":null}}},
      {"transform":[{"filter":"datum.o === 1"}],"mark":{"type":"rule","stroke":"#33339a","strokeWidth":1.5,"strokeDash":[2.5,3]},"encoding":{"x":{"datum":0},"y":{"datum":-1},"y2":{"datum":1}}},
      {"transform":[{"filter":"isValid(datum.d)"},{"fold":["s1","s2","s3","s4","s5"],"as":["cls","f"]},{"filter":"datum.f > 0"},{"stack":"f","groupby":["d"],"sort":[{"field":"cls","order":"ascending"}],"as":["r0","r1"]}],"mark":{"type":"arc","thetaOffset":-0.071,"theta2Offset":0.071,"stroke":"#000000","strokeWidth":1},"encoding":{"theta":{"field":"d","type":"quantitative","stack":null},"theta2":{"field":"d"},"radius":{"field":"r1","type":"quantitative","stack":null,"scale":{"type":"linear","domain":[0,15],"range":[0,298.5]}},"radius2":{"field":"r0"},"color":{"field":"cls","type":"nominal","scale":{"domain":["s1","s2","s3","s4","s5"],"range":["#ffff00","#ff0000","#0000ff","#007d00","#00ffff"]},"legend":null}}},
      {"transform":[{"filter":"datum.o === 1"}],"mark":{"type":"point","shape":"circle","size":130,"filled":true,"color":"#ffffff","stroke":"#000000","strokeWidth":1,"opacity":1},"encoding":{"x":{"datum":0},"y":{"datum":0}}},
      {"transform":[{"filter":"isValid(datum.ring)"}],"mark":{"type":"text","fontSize":8,"fontWeight":"bold","color":"#111111","align":"center","baseline":"middle"},"encoding":{"theta":{"datum":54},"radius":{"field":"ring","type":"quantitative","stack":null,"scale":{"type":"linear","domain":[0,15],"range":[-11,320]}},"text":{"field":"lab"}}},
      {"transform":[{"filter":"datum.o === 1"}],"mark":{"type":"text","text":"NORTH","fontSize":8,"fontWeight":"bold","color":"#111111","align":"left","baseline":"middle","dx":4,"dy":5},"encoding":{"x":{"datum":0},"y":{"datum":1}}},
      {"transform":[{"filter":"datum.o === 1"}],"mark":{"type":"text","text":"SOUTH","fontSize":8,"fontWeight":"bold","color":"#111111","align":"left","baseline":"middle","dx":4,"dy":-9},"encoding":{"x":{"datum":0},"y":{"datum":-1}}},
      {"transform":[{"filter":"datum.o === 1"}],"mark":{"type":"text","text":"WEST","fontSize":8,"fontWeight":"bold","color":"#111111","align":"left","baseline":"middle","dx":4.5,"dy":8},"encoding":{"x":{"datum":-1},"y":{"datum":0}}},
      {"transform":[{"filter":"datum.o === 1"}],"mark":{"type":"text","text":"EAST","fontSize":8,"fontWeight":"bold","color":"#111111","align":"right","baseline":"middle","dx":-20,"dy":8},"encoding":{"x":{"datum":1},"y":{"datum":0}}},
      {"transform":[{"filter":"datum.o === 1"}],"mark":{"type":"text","fontSize":26,"color":"#222222","align":"left","baseline":"alphabetic","dx":4,"dy":-27},"encoding":{"x":{"datum":-1},"y":{"datum":-1},"text":{"field":"m"}}}
    ]},
    {"width":608,"height":608,"data":{"name":"all"},"transform":[{"filter":"datum.m === 'AUG'"}],"resolve":{"scale":{"radius":"independent"}},"layer":[
      {"transform":[{"filter":"isValid(datum.ring)"}],"mark":{"type":"arc","filled":false,"stroke":"#33339a","strokeWidth":1.5,"strokeDash":[2.5,3]},"encoding":{"theta":{"datum":0,"scale":{"domain":[0,360],"range":[0,6.283185307179586]}},"theta2":{"datum":360},"radius":{"field":"ring","type":"quantitative","stack":null,"scale":{"type":"linear","domain":[0,15],"range":[0,298.5]}}}},
      {"transform":[{"filter":"datum.o === 1"}],"mark":{"type":"rule","stroke":"#33339a","strokeWidth":1.5,"strokeDash":[2.5,3]},"encoding":{"x":{"datum":-1,"scale":{"domain":[-1,1],"range":[5.5,602.5]},"axis":null},"x2":{"datum":1},"y":{"datum":0,"scale":{"domain":[-1,1],"range":[602.5,5.5]},"axis":null}}},
      {"transform":[{"filter":"datum.o === 1"}],"mark":{"type":"rule","stroke":"#33339a","strokeWidth":1.5,"strokeDash":[2.5,3]},"encoding":{"x":{"datum":0},"y":{"datum":-1},"y2":{"datum":1}}},
      {"transform":[{"filter":"isValid(datum.d)"},{"fold":["s1","s2","s3","s4","s5"],"as":["cls","f"]},{"filter":"datum.f > 0"},{"stack":"f","groupby":["d"],"sort":[{"field":"cls","order":"ascending"}],"as":["r0","r1"]}],"mark":{"type":"arc","thetaOffset":-0.071,"theta2Offset":0.071,"stroke":"#000000","strokeWidth":1},"encoding":{"theta":{"field":"d","type":"quantitative","stack":null},"theta2":{"field":"d"},"radius":{"field":"r1","type":"quantitative","stack":null,"scale":{"type":"linear","domain":[0,15],"range":[0,298.5]}},"radius2":{"field":"r0"},"color":{"field":"cls","type":"nominal","scale":{"domain":["s1","s2","s3","s4","s5"],"range":["#ffff00","#ff0000","#0000ff","#007d00","#00ffff"]},"legend":null}}},
      {"transform":[{"filter":"datum.o === 1"}],"mark":{"type":"point","shape":"circle","size":130,"filled":true,"color":"#ffffff","stroke":"#000000","strokeWidth":1,"opacity":1},"encoding":{"x":{"datum":0},"y":{"datum":0}}},
      {"transform":[{"filter":"isValid(datum.ring)"}],"mark":{"type":"text","fontSize":8,"fontWeight":"bold","color":"#111111","align":"center","baseline":"middle"},"encoding":{"theta":{"datum":54},"radius":{"field":"ring","type":"quantitative","stack":null,"scale":{"type":"linear","domain":[0,15],"range":[-11,320]}},"text":{"field":"lab"}}},
      {"transform":[{"filter":"datum.o === 1"}],"mark":{"type":"text","text":"NORTH","fontSize":8,"fontWeight":"bold","color":"#111111","align":"left","baseline":"middle","dx":4,"dy":5},"encoding":{"x":{"datum":0},"y":{"datum":1}}},
      {"transform":[{"filter":"datum.o === 1"}],"mark":{"type":"text","text":"SOUTH","fontSize":8,"fontWeight":"bold","color":"#111111","align":"left","baseline":"middle","dx":4,"dy":-9},"encoding":{"x":{"datum":0},"y":{"datum":-1}}},
      {"transform":[{"filter":"datum.o === 1"}],"mark":{"type":"text","text":"WEST","fontSize":8,"fontWeight":"bold","color":"#111111","align":"left","baseline":"middle","dx":4.5,"dy":8},"encoding":{"x":{"datum":-1},"y":{"datum":0}}},
      {"transform":[{"filter":"datum.o === 1"}],"mark":{"type":"text","text":"EAST","fontSize":8,"fontWeight":"bold","color":"#111111","align":"right","baseline":"middle","dx":-20,"dy":8},"encoding":{"x":{"datum":1},"y":{"datum":0}}},
      {"transform":[{"filter":"datum.o === 1"}],"mark":{"type":"text","fontSize":26,"color":"#222222","align":"left","baseline":"alphabetic","dx":4,"dy":-27},"encoding":{"x":{"datum":-1},"y":{"datum":-1},"text":{"field":"m"}}}
    ]},
    {"width":608,"height":608,"data":{"name":"all"},"transform":[{"filter":"datum.m === 'SEPT'"}],"resolve":{"scale":{"radius":"independent"}},"layer":[
      {"transform":[{"filter":"isValid(datum.ring)"}],"mark":{"type":"arc","filled":false,"stroke":"#33339a","strokeWidth":1.5,"strokeDash":[2.5,3]},"encoding":{"theta":{"datum":0,"scale":{"domain":[0,360],"range":[0,6.283185307179586]}},"theta2":{"datum":360},"radius":{"field":"ring","type":"quantitative","stack":null,"scale":{"type":"linear","domain":[0,15],"range":[0,298.5]}}}},
      {"transform":[{"filter":"datum.o === 1"}],"mark":{"type":"rule","stroke":"#33339a","strokeWidth":1.5,"strokeDash":[2.5,3]},"encoding":{"x":{"datum":-1,"scale":{"domain":[-1,1],"range":[5.5,602.5]},"axis":null},"x2":{"datum":1},"y":{"datum":0,"scale":{"domain":[-1,1],"range":[602.5,5.5]},"axis":null}}},
      {"transform":[{"filter":"datum.o === 1"}],"mark":{"type":"rule","stroke":"#33339a","strokeWidth":1.5,"strokeDash":[2.5,3]},"encoding":{"x":{"datum":0},"y":{"datum":-1},"y2":{"datum":1}}},
      {"transform":[{"filter":"isValid(datum.d)"},{"fold":["s1","s2","s3","s4","s5"],"as":["cls","f"]},{"filter":"datum.f > 0"},{"stack":"f","groupby":["d"],"sort":[{"field":"cls","order":"ascending"}],"as":["r0","r1"]}],"mark":{"type":"arc","thetaOffset":-0.071,"theta2Offset":0.071,"stroke":"#000000","strokeWidth":1},"encoding":{"theta":{"field":"d","type":"quantitative","stack":null},"theta2":{"field":"d"},"radius":{"field":"r1","type":"quantitative","stack":null,"scale":{"type":"linear","domain":[0,15],"range":[0,298.5]}},"radius2":{"field":"r0"},"color":{"field":"cls","type":"nominal","scale":{"domain":["s1","s2","s3","s4","s5"],"range":["#ffff00","#ff0000","#0000ff","#007d00","#00ffff"]},"legend":null}}},
      {"transform":[{"filter":"datum.o === 1"}],"mark":{"type":"point","shape":"circle","size":130,"filled":true,"color":"#ffffff","stroke":"#000000","strokeWidth":1,"opacity":1},"encoding":{"x":{"datum":0},"y":{"datum":0}}},
      {"transform":[{"filter":"isValid(datum.ring)"}],"mark":{"type":"text","fontSize":8,"fontWeight":"bold","color":"#111111","align":"center","baseline":"middle"},"encoding":{"theta":{"datum":54},"radius":{"field":"ring","type":"quantitative","stack":null,"scale":{"type":"linear","domain":[0,15],"range":[-11,320]}},"text":{"field":"lab"}}},
      {"transform":[{"filter":"datum.o === 1"}],"mark":{"type":"text","text":"NORTH","fontSize":8,"fontWeight":"bold","color":"#111111","align":"left","baseline":"middle","dx":4,"dy":5},"encoding":{"x":{"datum":0},"y":{"datum":1}}},
      {"transform":[{"filter":"datum.o === 1"}],"mark":{"type":"text","text":"SOUTH","fontSize":8,"fontWeight":"bold","color":"#111111","align":"left","baseline":"middle","dx":4,"dy":-9},"encoding":{"x":{"datum":0},"y":{"datum":-1}}},
      {"transform":[{"filter":"datum.o === 1"}],"mark":{"type":"text","text":"WEST","fontSize":8,"fontWeight":"bold","color":"#111111","align":"left","baseline":"middle","dx":4.5,"dy":8},"encoding":{"x":{"datum":-1},"y":{"datum":0}}},
      {"transform":[{"filter":"datum.o === 1"}],"mark":{"type":"text","text":"EAST","fontSize":8,"fontWeight":"bold","color":"#111111","align":"right","baseline":"middle","dx":-20,"dy":8},"encoding":{"x":{"datum":1},"y":{"datum":0}}},
      {"transform":[{"filter":"datum.o === 1"}],"mark":{"type":"text","fontSize":26,"color":"#222222","align":"left","baseline":"alphabetic","dx":4,"dy":-27},"encoding":{"x":{"datum":-1},"y":{"datum":-1},"text":{"field":"m"}}}
    ]},
    {"width":608,"height":608,"data":{"name":"all"},"transform":[{"filter":"datum.m === 'OCT'"}],"resolve":{"scale":{"radius":"independent"}},"layer":[
      {"transform":[{"filter":"isValid(datum.ring)"}],"mark":{"type":"arc","filled":false,"stroke":"#33339a","strokeWidth":1.5,"strokeDash":[2.5,3]},"encoding":{"theta":{"datum":0,"scale":{"domain":[0,360],"range":[0,6.283185307179586]}},"theta2":{"datum":360},"radius":{"field":"ring","type":"quantitative","stack":null,"scale":{"type":"linear","domain":[0,15],"range":[0,298.5]}}}},
      {"transform":[{"filter":"datum.o === 1"}],"mark":{"type":"rule","stroke":"#33339a","strokeWidth":1.5,"strokeDash":[2.5,3]},"encoding":{"x":{"datum":-1,"scale":{"domain":[-1,1],"range":[5.5,602.5]},"axis":null},"x2":{"datum":1},"y":{"datum":0,"scale":{"domain":[-1,1],"range":[602.5,5.5]},"axis":null}}},
      {"transform":[{"filter":"datum.o === 1"}],"mark":{"type":"rule","stroke":"#33339a","strokeWidth":1.5,"strokeDash":[2.5,3]},"encoding":{"x":{"datum":0},"y":{"datum":-1},"y2":{"datum":1}}},
      {"transform":[{"filter":"isValid(datum.d)"},{"fold":["s1","s2","s3","s4","s5"],"as":["cls","f"]},{"filter":"datum.f > 0"},{"stack":"f","groupby":["d"],"sort":[{"field":"cls","order":"ascending"}],"as":["r0","r1"]}],"mark":{"type":"arc","thetaOffset":-0.071,"theta2Offset":0.071,"stroke":"#000000","strokeWidth":1},"encoding":{"theta":{"field":"d","type":"quantitative","stack":null},"theta2":{"field":"d"},"radius":{"field":"r1","type":"quantitative","stack":null,"scale":{"type":"linear","domain":[0,15],"range":[0,298.5]}},"radius2":{"field":"r0"},"color":{"field":"cls","type":"nominal","scale":{"domain":["s1","s2","s3","s4","s5"],"range":["#ffff00","#ff0000","#0000ff","#007d00","#00ffff"]},"legend":null}}},
      {"transform":[{"filter":"datum.o === 1"}],"mark":{"type":"point","shape":"circle","size":130,"filled":true,"color":"#ffffff","stroke":"#000000","strokeWidth":1,"opacity":1},"encoding":{"x":{"datum":0},"y":{"datum":0}}},
      {"transform":[{"filter":"isValid(datum.ring)"}],"mark":{"type":"text","fontSize":8,"fontWeight":"bold","color":"#111111","align":"center","baseline":"middle"},"encoding":{"theta":{"datum":54},"radius":{"field":"ring","type":"quantitative","stack":null,"scale":{"type":"linear","domain":[0,15],"range":[-11,320]}},"text":{"field":"lab"}}},
      {"transform":[{"filter":"datum.o === 1"}],"mark":{"type":"text","text":"NORTH","fontSize":8,"fontWeight":"bold","color":"#111111","align":"left","baseline":"middle","dx":4,"dy":5},"encoding":{"x":{"datum":0},"y":{"datum":1}}},
      {"transform":[{"filter":"datum.o === 1"}],"mark":{"type":"text","text":"SOUTH","fontSize":8,"fontWeight":"bold","color":"#111111","align":"left","baseline":"middle","dx":4,"dy":-9},"encoding":{"x":{"datum":0},"y":{"datum":-1}}},
      {"transform":[{"filter":"datum.o === 1"}],"mark":{"type":"text","text":"WEST","fontSize":8,"fontWeight":"bold","color":"#111111","align":"left","baseline":"middle","dx":4.5,"dy":8},"encoding":{"x":{"datum":-1},"y":{"datum":0}}},
      {"transform":[{"filter":"datum.o === 1"}],"mark":{"type":"text","text":"EAST","fontSize":8,"fontWeight":"bold","color":"#111111","align":"right","baseline":"middle","dx":-20,"dy":8},"encoding":{"x":{"datum":1},"y":{"datum":0}}},
      {"transform":[{"filter":"datum.o === 1"}],"mark":{"type":"text","fontSize":26,"color":"#222222","align":"left","baseline":"alphabetic","dx":4,"dy":-27},"encoding":{"x":{"datum":-1},"y":{"datum":-1},"text":{"field":"m"}}}
    ]},
    {"width":608,"height":608,"data":{"name":"all"},"transform":[{"filter":"datum.m === 'NOV'"}],"resolve":{"scale":{"radius":"independent"}},"layer":[
      {"transform":[{"filter":"isValid(datum.ring)"}],"mark":{"type":"arc","filled":false,"stroke":"#33339a","strokeWidth":1.5,"strokeDash":[2.5,3]},"encoding":{"theta":{"datum":0,"scale":{"domain":[0,360],"range":[0,6.283185307179586]}},"theta2":{"datum":360},"radius":{"field":"ring","type":"quantitative","stack":null,"scale":{"type":"linear","domain":[0,20],"range":[0,298.5]}}}},
      {"transform":[{"filter":"datum.o === 1"}],"mark":{"type":"rule","stroke":"#33339a","strokeWidth":1.5,"strokeDash":[2.5,3]},"encoding":{"x":{"datum":-1,"scale":{"domain":[-1,1],"range":[5.5,602.5]},"axis":null},"x2":{"datum":1},"y":{"datum":0,"scale":{"domain":[-1,1],"range":[602.5,5.5]},"axis":null}}},
      {"transform":[{"filter":"datum.o === 1"}],"mark":{"type":"rule","stroke":"#33339a","strokeWidth":1.5,"strokeDash":[2.5,3]},"encoding":{"x":{"datum":0},"y":{"datum":-1},"y2":{"datum":1}}},
      {"transform":[{"filter":"isValid(datum.d)"},{"fold":["s1","s2","s3","s4","s5"],"as":["cls","f"]},{"filter":"datum.f > 0"},{"stack":"f","groupby":["d"],"sort":[{"field":"cls","order":"ascending"}],"as":["r0","r1"]}],"mark":{"type":"arc","thetaOffset":-0.071,"theta2Offset":0.071,"stroke":"#000000","strokeWidth":1},"encoding":{"theta":{"field":"d","type":"quantitative","stack":null},"theta2":{"field":"d"},"radius":{"field":"r1","type":"quantitative","stack":null,"scale":{"type":"linear","domain":[0,20],"range":[0,298.5]}},"radius2":{"field":"r0"},"color":{"field":"cls","type":"nominal","scale":{"domain":["s1","s2","s3","s4","s5"],"range":["#ffff00","#ff0000","#0000ff","#007d00","#00ffff"]},"legend":null}}},
      {"transform":[{"filter":"datum.o === 1"}],"mark":{"type":"point","shape":"circle","size":130,"filled":true,"color":"#ffffff","stroke":"#000000","strokeWidth":1,"opacity":1},"encoding":{"x":{"datum":0},"y":{"datum":0}}},
      {"transform":[{"filter":"isValid(datum.ring)"}],"mark":{"type":"text","fontSize":8,"fontWeight":"bold","color":"#111111","align":"center","baseline":"middle"},"encoding":{"theta":{"datum":54},"radius":{"field":"ring","type":"quantitative","stack":null,"scale":{"type":"linear","domain":[0,20],"range":[-11,320]}},"text":{"field":"lab"}}},
      {"transform":[{"filter":"datum.o === 1"}],"mark":{"type":"text","text":"NORTH","fontSize":8,"fontWeight":"bold","color":"#111111","align":"left","baseline":"middle","dx":4,"dy":5},"encoding":{"x":{"datum":0},"y":{"datum":1}}},
      {"transform":[{"filter":"datum.o === 1"}],"mark":{"type":"text","text":"SOUTH","fontSize":8,"fontWeight":"bold","color":"#111111","align":"left","baseline":"middle","dx":4,"dy":-9},"encoding":{"x":{"datum":0},"y":{"datum":-1}}},
      {"transform":[{"filter":"datum.o === 1"}],"mark":{"type":"text","text":"WEST","fontSize":8,"fontWeight":"bold","color":"#111111","align":"left","baseline":"middle","dx":4.5,"dy":8},"encoding":{"x":{"datum":-1},"y":{"datum":0}}},
      {"transform":[{"filter":"datum.o === 1"}],"mark":{"type":"text","text":"EAST","fontSize":8,"fontWeight":"bold","color":"#111111","align":"right","baseline":"middle","dx":-20,"dy":8},"encoding":{"x":{"datum":1},"y":{"datum":0}}},
      {"transform":[{"filter":"datum.o === 1"}],"mark":{"type":"text","fontSize":26,"color":"#222222","align":"left","baseline":"alphabetic","dx":4,"dy":-27},"encoding":{"x":{"datum":-1},"y":{"datum":-1},"text":{"field":"m"}}}
    ]},
    {"width":608,"height":608,"data":{"name":"all"},"transform":[{"filter":"datum.m === 'DEC'"}],"resolve":{"scale":{"radius":"independent"}},"layer":[
      {"transform":[{"filter":"isValid(datum.ring)"}],"mark":{"type":"arc","filled":false,"stroke":"#33339a","strokeWidth":1.5,"strokeDash":[2.5,3]},"encoding":{"theta":{"datum":0,"scale":{"domain":[0,360],"range":[0,6.283185307179586]}},"theta2":{"datum":360},"radius":{"field":"ring","type":"quantitative","stack":null,"scale":{"type":"linear","domain":[0,20],"range":[0,298.5]}}}},
      {"transform":[{"filter":"datum.o === 1"}],"mark":{"type":"rule","stroke":"#33339a","strokeWidth":1.5,"strokeDash":[2.5,3]},"encoding":{"x":{"datum":-1,"scale":{"domain":[-1,1],"range":[5.5,602.5]},"axis":null},"x2":{"datum":1},"y":{"datum":0,"scale":{"domain":[-1,1],"range":[602.5,5.5]},"axis":null}}},
      {"transform":[{"filter":"datum.o === 1"}],"mark":{"type":"rule","stroke":"#33339a","strokeWidth":1.5,"strokeDash":[2.5,3]},"encoding":{"x":{"datum":0},"y":{"datum":-1},"y2":{"datum":1}}},
      {"transform":[{"filter":"isValid(datum.d)"},{"fold":["s1","s2","s3","s4","s5"],"as":["cls","f"]},{"filter":"datum.f > 0"},{"stack":"f","groupby":["d"],"sort":[{"field":"cls","order":"ascending"}],"as":["r0","r1"]}],"mark":{"type":"arc","thetaOffset":-0.071,"theta2Offset":0.071,"stroke":"#000000","strokeWidth":1},"encoding":{"theta":{"field":"d","type":"quantitative","stack":null},"theta2":{"field":"d"},"radius":{"field":"r1","type":"quantitative","stack":null,"scale":{"type":"linear","domain":[0,20],"range":[0,298.5]}},"radius2":{"field":"r0"},"color":{"field":"cls","type":"nominal","scale":{"domain":["s1","s2","s3","s4","s5"],"range":["#ffff00","#ff0000","#0000ff","#007d00","#00ffff"]},"legend":null}}},
      {"transform":[{"filter":"datum.o === 1"}],"mark":{"type":"point","shape":"circle","size":130,"filled":true,"color":"#ffffff","stroke":"#000000","strokeWidth":1,"opacity":1},"encoding":{"x":{"datum":0},"y":{"datum":0}}},
      {"transform":[{"filter":"isValid(datum.ring)"}],"mark":{"type":"text","fontSize":8,"fontWeight":"bold","color":"#111111","align":"center","baseline":"middle"},"encoding":{"theta":{"datum":54},"radius":{"field":"ring","type":"quantitative","stack":null,"scale":{"type":"linear","domain":[0,20],"range":[-11,320]}},"text":{"field":"lab"}}},
      {"transform":[{"filter":"datum.o === 1"}],"mark":{"type":"text","text":"NORTH","fontSize":8,"fontWeight":"bold","color":"#111111","align":"left","baseline":"middle","dx":4,"dy":5},"encoding":{"x":{"datum":0},"y":{"datum":1}}},
      {"transform":[{"filter":"datum.o === 1"}],"mark":{"type":"text","text":"SOUTH","fontSize":8,"fontWeight":"bold","color":"#111111","align":"left","baseline":"middle","dx":4,"dy":-9},"encoding":{"x":{"datum":0},"y":{"datum":-1}}},
      {"transform":[{"filter":"datum.o === 1"}],"mark":{"type":"text","text":"WEST","fontSize":8,"fontWeight":"bold","color":"#111111","align":"left","baseline":"middle","dx":4.5,"dy":8},"encoding":{"x":{"datum":-1},"y":{"datum":0}}},
      {"transform":[{"filter":"datum.o === 1"}],"mark":{"type":"text","text":"EAST","fontSize":8,"fontWeight":"bold","color":"#111111","align":"right","baseline":"middle","dx":-20,"dy":8},"encoding":{"x":{"datum":1},"y":{"datum":0}}},
      {"transform":[{"filter":"datum.o === 1"}],"mark":{"type":"text","fontSize":26,"color":"#222222","align":"left","baseline":"alphabetic","dx":4,"dy":-27},"encoding":{"x":{"datum":-1},"y":{"datum":-1},"text":{"field":"m"}}}
    ]}
  ]
}
